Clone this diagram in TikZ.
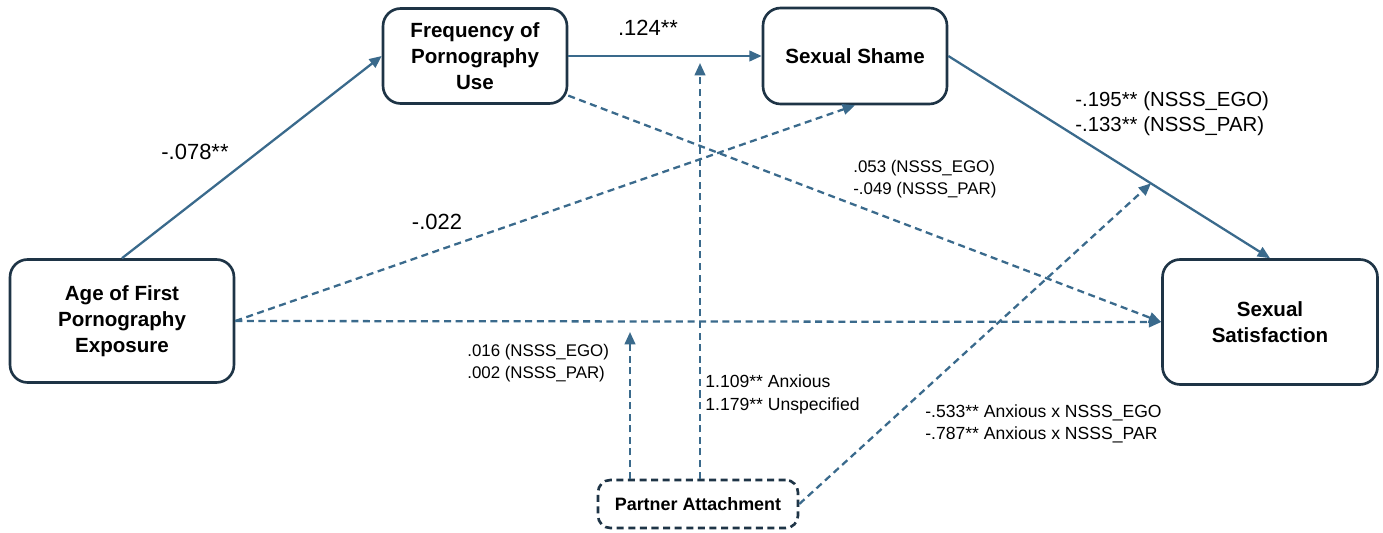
\documentclass[tikz,border=0pt]{standalone}
\usepackage{fontspec}
\setmainfont{Liberation Sans}
\usetikzlibrary{arrows.meta,calc}

\definecolor{pathblue}{HTML}{3A6A8C}
\definecolor{boxnavy}{HTML}{1E3446}

\begin{document}
\begin{tikzpicture}[x=0.02cm,y=-0.02cm,
    var/.style={draw=boxnavy,line width=1.5pt,rounded corners=10pt,fill=white,
      align=center,inner sep=0pt,font=\fontsize{11.7}{14.7}\selectfont\bfseries},
    link/.style={draw=pathblue,line width=1.3pt,-{Triangle[length=7pt,width=6pt]}},
    dlink/.style={link,dash pattern=on 4pt off 2.6pt},
    big/.style={font=\fontsize{12.5}{15}\selectfont,inner sep=0pt},
    small/.style={font=\fontsize{10}{12.6}\selectfont,align=left,anchor=west,inner sep=0pt}]

    \useasboundingbox (0,0) rectangle (1383,533);

    % Variables
    \node[var,minimum width=4.48cm,minimum height=2.46cm] (age) at (122,321)
        {Age of First\\Pornography\\Exposure};
    \node[var,minimum width=3.68cm,minimum height=1.9cm] (freq) at (475,56)
        {Frequency of\\Pornography\\Use};
    \node[var,minimum width=3.68cm,minimum height=1.92cm] (shame) at (855,56)
        {Sexual Shame};
    \node[var,minimum width=4.3cm,minimum height=2.5cm] (satis) at (1270,322)
        {Sexual\\Satisfaction};
    \node[var,dash pattern=on 4pt off 2.6pt,rounded corners=7pt,minimum width=4cm,
        minimum height=0.96cm,font=\fontsize{10.2}{12}\selectfont\bfseries] (partner) at (698,504)
        {Partner Attachment};

    % Points on the moderated paths
    \coordinate (onDirect) at (630,332);
    \coordinate (onFirst) at (700,63);
    \coordinate (onSecond) at ($(shame.east)!0.63!(satis.north)$);

    % Paths
    \draw[link] (age.north) -- (freq.west);
    \draw[link] (freq.east) -- (shame.west);
    \draw[link] (shame.east) -- (satis.north);
    \draw[dlink] (freq.-23) -- (satis.west);
    \draw[dlink] (age.east) -- (shame.south);
    \draw[dlink] (age.east) -- (satis.west);

    % Moderation
    \draw[dlink] (partner.north -| onDirect) -- (onDirect);
    \draw[dlink] (partner.north -| onFirst) -- (onFirst);
    \draw[dlink] (partner.east) -- (onSecond);

    % Labels
    \node[big] (lblA) at (648,28) {.124**};
    \node[big] (lblB) at (195,152) {-.078**};
    \node[big] (lblC) at (437,222) {-.022};
    \node[small,font=\fontsize{11.6}{14.2}\selectfont] (lblD) at (1075,113.5)
        {-.195** (NSSS\_EGO)\\-.133** (NSSS\_PAR)};
    \node[small,font=\fontsize{9.6}{12.5}\selectfont] (lblE) at (853,179)
        {.053 (NSSS\_EGO)\\-.049 (NSSS\_PAR)};
    \node[small,font=\fontsize{9.6}{12.5}\selectfont] (lblF) at (467,363)
        {.016 (NSSS\_EGO)\\.002 (NSSS\_PAR)};
    \node[small] (lblG) at (705,394.5)
        {1.109** Anxious\\1.179** Unspecified};
    \node[small] (lblH) at (925,423.5)
        {-.533** Anxious x NSSS\_EGO\\-.787** Anxious x NSSS\_PAR};
\end{tikzpicture}
\end{document}
